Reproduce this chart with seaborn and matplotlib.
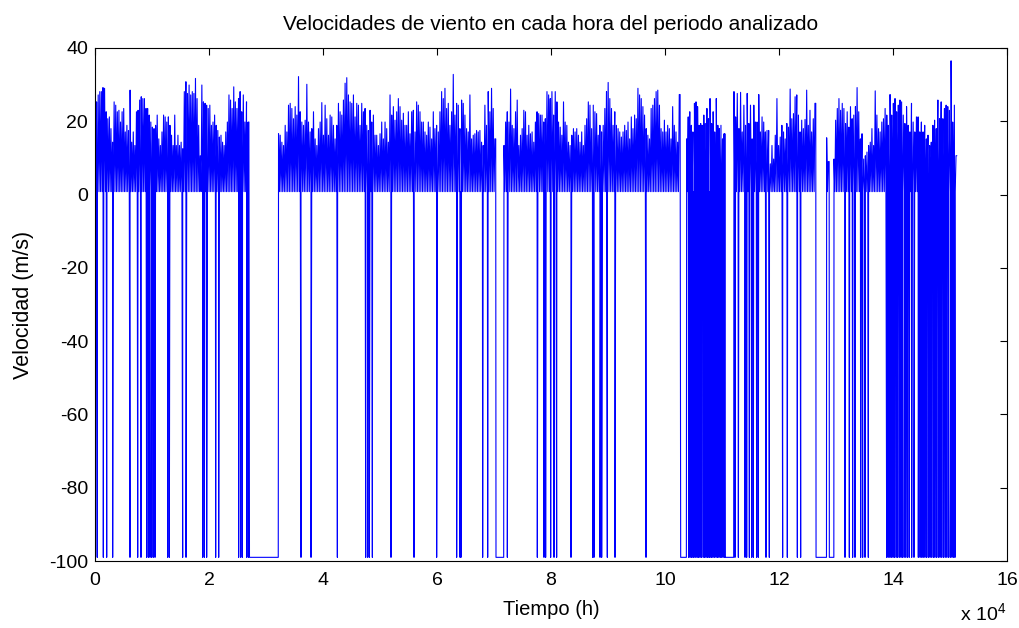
import numpy as np
import pandas as pd
import matplotlib
matplotlib.use("Agg")
import matplotlib.pyplot as plt
import seaborn as sns
from matplotlib.ticker import FuncFormatter

# Hourly wind record: sentinel -99 marks missing hours, calm floor ~0.8 m/s
MISSING = -99.0
CALM = 0.8

# Blocks of valid measurements (start hour, end hour)
seg_bounds = [(0, 27000), (32200, 70300), (71750, 102650), (103800, 110500),
              (112100, 126450), (128360, 128800), (129650, 151200)]

# Gust peaks (m/s) through each valid block
peaks_1 = [29.4, 25.3, 27.2, 28.1, 28.1, 29.2, 29.0, 22.6, 20.7, 21.2, 18.0, 14.3, 25.3, 24.4,
           22.6, 23.0, 19.8, 22.6, 23.5, 17.1, 18.9, 17.5, 28.5, 14.3, 17.1, 13.4, 22.6, 23.0,
           25.8, 26.7, 26.2, 26.2, 23.5, 23.5, 21.7, 19.8, 18.4, 18.0, 18.9, 21.7, 15.2, 13.4,
           17.1, 21.7, 21.2, 19.8, 21.2, 18.9, 16.2, 13.4, 21.7, 13.4, 16.2, 13.4, 14.3, 12.5,
           28.1, 30.8, 27.6, 29.9, 27.2, 28.1, 27.6, 31.7, 26.2, 18.9, 10.6, 29.9, 25.3, 24.9,
           24.4, 23.5, 24.4, 18.9, 19.8, 21.7, 18.9, 17.5, 15.7, 16.2, 14.3, 13.4, 17.1, 19.8,
           27.2, 25.8, 23.5, 29.4, 25.3, 23.5, 26.2, 28.1, 22.6, 27.2, 19.8, 25.3, 19.8]
peaks_2 = [16.6, 16.2, 14.3, 13.4, 18.9, 17.1, 24.4, 24.9, 23.5, 20.7, 24.0, 21.7, 32.2, 22.6,
           19.8, 18.9, 20.3, 30.1, 19.8, 17.1, 18.0, 22.6, 15.2, 13.4, 18.0, 19.8, 25.1, 16.2,
           24.4, 20.7, 16.2, 21.7, 21.2, 18.9, 15.2, 18.9, 24.9, 22.6, 21.7, 25.8, 30.4, 31.9,
           27.2, 25.3, 24.9, 27.2, 21.2, 24.9, 24.4, 18.9, 24.9, 22.6, 23.5, 18.9, 17.5, 23.0,
           19.8, 21.7, 16.2, 16.2, 13.4, 16.6, 19.8, 15.2, 19.8, 18.0, 14.3, 27.2, 21.7, 24.0,
           20.3, 22.6, 26.2, 24.0, 20.3, 22.2, 18.9,
           18.9, 22.6, 16.6, 22.6, 23.0, 17.1, 25.3, 24.4, 22.6, 19.8, 19.8, 17.1, 16.2, 19.8,
           18.4, 15.2, 22.6, 18.0, 18.9, 17.1, 22.6, 28.1, 26.2, 29.0, 23.5, 24.9, 18.9, 22.6,
           32.8, 21.7, 24.9, 24.4, 18.0, 25.8, 24.9, 21.7, 18.0, 17.1, 27.2, 15.2, 16.2, 16.6,
           17.5, 17.1, 17.5, 14.3, 13.4, 24.4, 18.9, 28.1, 22.6, 29.0, 23.5, 15.2]
peaks_3 = [13.4, 19.8, 22.6, 19.8, 28.8, 18.9, 18.0, 22.6, 25.8, 13.4, 16.2, 18.0, 23.0, 22.6,
           16.2, 18.9, 16.6, 17.1, 14.3, 19.8, 22.6, 22.1, 21.7, 21.7, 19.8, 20.7, 28.1, 27.2,
           26.2, 28.1, 21.7, 28.1, 25.3, 19.8, 18.4,
           16.2, 25.3, 19.8, 18.9, 14.3, 13.4, 16.2, 18.0, 17.1, 18.0, 16.2, 14.3, 17.1, 13.4,
           18.9, 20.7, 25.3, 24.4, 18.0, 24.4, 22.6, 22.1, 16.2, 18.9, 17.1, 18.9, 23.5, 28.1,
           30.6, 26.2, 23.5, 18.9, 22.6, 18.9, 18.0, 17.1, 15.7, 17.1, 18.9, 17.5, 19.8, 15.2,
           21.2, 18.0, 21.7, 20.7, 29.0, 27.2, 26.2, 24.0, 21.7, 18.0, 16.2, 15.2, 23.5, 24.4,
           26.2, 28.1, 28.5, 24.4, 18.0, 17.1, 20.3, 17.1, 18.9, 18.0, 15.2, 24.0, 18.9, 17.1,
           14.3, 27.3]
peaks_4 = [15.2, 21.2, 22.6, 18.9, 17.1, 24.9, 25.3, 24.0, 18.9, 19.4, 18.9, 21.7, 19.4, 23.5,
           20.7, 26.2, 19.4, 22.6, 17.1, 26.2, 18.9, 18.0, 18.9, 15.2, 16.6]
peaks_5 = [28.1, 21.2, 27.6, 18.0, 27.9, 17.1, 24.4, 18.9, 27.6, 19.4, 24.4, 15.2, 24.4, 19.8,
           19.8, 27.3, 17.1, 21.2, 19.8, 17.1, 17.5, 17.5, 8.4, 13.4, 9.7, 16.2, 26.2, 13.4,
           15.7, 18.9, 17.1, 15.2, 19.4, 18.4, 28.8, 20.7, 22.1, 26.7, 27.2, 21.7, 17.1, 20.3,
           18.0, 20.5, 28.5, 18.9, 23.0, 17.1, 20.7, 24.9]
peaks_6 = [15.5, 9.0]
peaks_7 = [9.7, 20.3, 23.5, 26.2, 23.0, 24.9, 23.5, 19.4, 22.6, 18.4, 24.0, 20.7, 21.7, 24.0,
           29.2, 22.6, 15.2, 16.6, 9.7, 10.6, 11.6, 13.4, 14.3,
           18.0, 13.4, 28.3, 21.7, 18.0, 17.1, 19.8, 20.7, 23.5, 21.7, 18.9, 27.3, 21.7, 24.9,
           26.2, 22.6, 24.4, 25.8, 25.3, 21.7, 19.4, 24.0, 18.9, 17.1, 24.9, 19.8, 17.1, 21.2,
           21.2, 17.1, 19.8, 17.1, 18.9, 15.2, 16.2, 13.4, 14.3, 18.9, 20.3, 18.0, 25.8, 20.7,
           25.3, 20.7, 23.5, 24.4, 24.0, 23.0, 36.5, 19.8, 24.4, 10.6]
block_peaks = [peaks_1, peaks_2, peaks_3, peaks_4, peaks_5, peaks_6, peaks_7]

# Long outages recorded as -99 (start hour, end hour)
outages = [(27100, 32150), (70350, 71700), (102750, 103750), (110550, 112050),
           (126500, 128330), (128830, 129620)]

# Isolated hours flagged as -99
dropouts = [100, 410, 1460, 2050, 3100, 6140, 7490, 8070, 9060, 9360, 9650, 9940, 10230,
            10530, 12750, 13040, 15380, 15970, 18890, 19180, 19590, 21170, 21700, 25200,
            25560, 25850, 26610, 26900,
            36140, 37900, 42520, 47490, 47840, 48130, 48660, 51930, 55970, 59940, 63450,
            64040, 64210, 68010, 68890,
            72340, 77600, 78770, 79060, 79940, 80530, 80990, 83510, 87310, 87540, 88600,
            88890, 89880, 91230, 96670,
            104150, 104400, 104650, 104900, 105100, 105400, 105650, 105900, 106150, 106400,
            106700, 106950, 107200, 107450, 107700, 107900, 108150, 108400, 108650, 108950,
            109200, 109450, 109700, 109950, 110200, 110450,
            112280, 112870, 114040, 114330, 114800, 115210, 115500, 116080, 116370, 117720,
            118300, 120640, 121460, 123220, 123800,
            131580, 132340, 132920, 133330, 134330, 134680, 135090, 135670,
            138890, 139150, 139450, 139700, 140000, 140250, 140550, 140800, 141100, 141400,
            141650, 141950, 142250, 142550, 142850, 143280, 143680,
            144440, 144750, 145050, 145300, 145600, 145900, 146200, 146500, 146800, 147100,
            147350, 147650, 147950, 148250, 148550, 148850, 149150, 149450, 149750, 150050,
            150350, 150650, 150880]

x_ticks = [0, 20000, 40000, 60000, 80000, 100000, 120000, 140000, 160000]
y_ticks = [-100, -80, -60, -40, -20, 0, 20, 40]

# ---- assemble the time series ----
hours, speeds = [], []
for (t0, t1), pk in zip(seg_bounds, block_peaks):
    n = len(pk)
    t = np.linspace(t0, t1, 2 * n)
    v = np.empty(2 * n)
    v[0::2] = pk
    v[1::2] = CALM
    v[-1] = pk[-1]
    hours.extend(t)
    speeds.extend(v)
for a, b in outages:
    hours.extend([a, b])
    speeds.extend([MISSING, MISSING])
hours.extend(dropouts)
speeds.extend([MISSING] * len(dropouts))

df = pd.DataFrame({"hora": hours, "velocidad": speeds}).sort_values("hora", kind="stable")

# ---- figure ----
sns.set_style("white")
plt.rcParams["font.family"] = ["Liberation Sans", "DejaVu Sans"]
plt.rcParams["mathtext.default"] = "regular"
plt.rcParams["axes.unicode_minus"] = False
plt.rcParams["text.color"] = "black"
plt.rcParams["axes.labelcolor"] = "black"

fig = plt.figure(figsize=(10.19, 6.28), dpi=100)
ax = fig.add_axes([95 / 1019, 1 - 561 / 628, (1007 - 95) / 1019, (561 - 48) / 628])

sns.lineplot(data=df, x="hora", y="velocidad", estimator=None, sort=False,
             color="#0000ff", linewidth=0.8, ax=ax)

ax.set_xlim(0, 160000)
ax.set_ylim(-100, 40)
ax.set_xticks(x_ticks)
ax.set_yticks(y_ticks)
ax.xaxis.set_major_formatter(FuncFormatter(lambda v, p: f"{v / 1e4:g}"))
ax.tick_params(direction="in", top=True, right=True, length=5, width=0.8,
               labelsize=14, colors="black")
ax.tick_params(axis="x", pad=8)
ax.tick_params(axis="y", pad=5)
for s in ax.spines.values():
    s.set_visible(True)
    s.set_color("black")
    s.set_linewidth(0.8)

ax.set_title("Velocidades de viento en cada hora del periodo analizado",
             fontsize=15, pad=13, color="black")
ax.set_xlabel("Tiempo (h)", fontsize=14.5, labelpad=8)
ax.set_ylabel("Velocidad (m/s)", fontsize=15.5, labelpad=11)
fig.text(1006 / 1019, 0.006, r"x 10$^{4}$", ha="right", va="bottom", fontsize=14)

fig.savefig("out.png", dpi=100)
